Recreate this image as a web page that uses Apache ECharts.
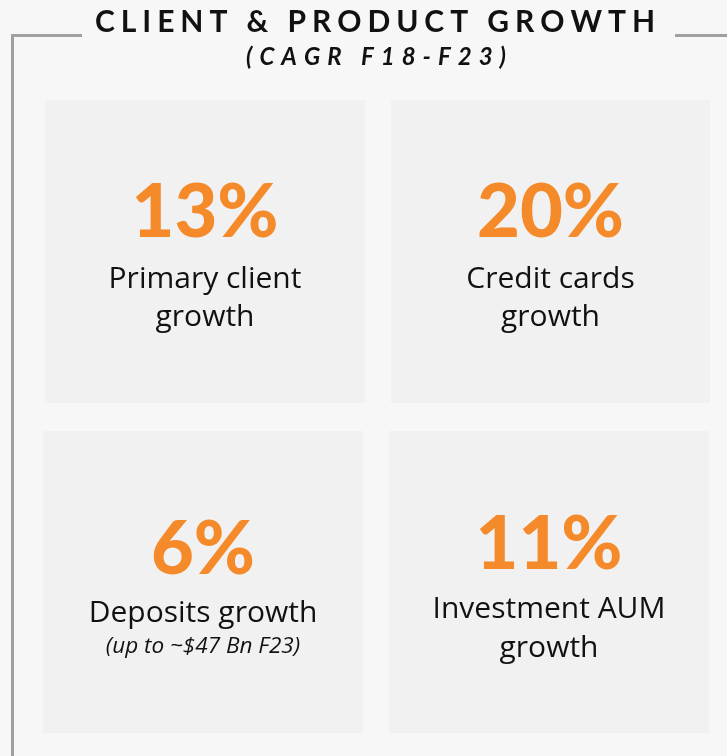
<!DOCTYPE html>
<html>
<head>
<meta charset="utf-8">
<script src="https://cdn.jsdelivr.net/npm/echarts@6/dist/echarts.min.js"></script>
<style>
  html, body { margin: 0; background: #f7f7f7; }
  #chart { width: 727px; height: 756px; }
</style>
</head>
<body>
<div id="chart"></div>
<script>
// data
const titleText = 'CLIENT & PRODUCT GROWTH';
const subtitleText = '(CAGR F18-F23)';
const growthValues = ['13%', '20%', '6%', '11%'];
const growthLabels = [
    ['Primary client', 'growth'],
    ['Credit cards', 'growth'],
    ['Deposits growth'],
    ['Investment AUM', 'growth'],
];
const growthNotes = ['', '', '(up to ~$47 Bn F23)', ''];

// tile boxes (layout only)
const tiles = [
    { x: 45, y: 100, w: 320, h: 303, num: 113, lines: [179, 217], note: 0 },
    { x: 391, y: 100, w: 319, h: 303, num: 113, lines: [179, 217], note: 0 },
    { x: 43, y: 431, w: 320, h: 302, num: 119, lines: [182], note: 216 },
    { x: 389, y: 431, w: 320, h: 302, num: 114, lines: [178, 217], note: 0 },
];

const orange = '#f58a2b';
const ink = '#111111';
const numFont = '900 74px Lato';
const labelFont = '30px "Open Sans"';
const noteFont = 'italic 22.5px "Open Sans"';

const ctx = document.createElement('canvas').getContext('2d');

// place each character so the line is letter-spaced to a given width
function spacedText(text, font, cx, cy, width, fill) {
    ctx.font = font;
    const chars = [...text];
    const widths = chars.map((c) => ctx.measureText(c).width);
    const natural = widths.reduce((a, b) => a + b, 0);
    const gap = (width - natural) / (chars.length - 1);
    let x = cx - width / 2;
    return chars.map((c, i) => {
        const el = {
            type: 'text',
            x: x,
            y: cy,
            style: { text: c, font: font, fill: fill, textAlign: 'left', textVerticalAlign: 'middle' },
        };
        x += widths[i] + gap;
        return el;
    });
}

const elements = [];

// frame lines
const frame = '#a0a0a0';
elements.push({ type: 'rect', shape: { x: 11, y: 34, width: 3, height: 722 }, style: { fill: frame } });
elements.push({ type: 'rect', shape: { x: 11, y: 34, width: 71, height: 3 }, style: { fill: frame } });
elements.push({ type: 'rect', shape: { x: 675, y: 34, width: 52, height: 3 }, style: { fill: frame } });

// heading
elements.push(...spacedText(titleText, 'bold 30px Lato', 375, 22, 560, ink));
elements.push(...spacedText(subtitleText, 'italic bold 24px Lato', 376, 57, 260, ink));

tiles.forEach((t, i) => {
    const cx = t.x + t.w / 2;
    elements.push({ type: 'rect', shape: { x: t.x, y: t.y, width: t.w, height: t.h }, style: { fill: '#f1f1f1' } });
    elements.push({
        type: 'text',
        x: cx,
        y: t.y + t.num,
        style: { text: growthValues[i], font: numFont, fill: orange, textAlign: 'center', textVerticalAlign: 'middle' },
    });
    growthLabels[i].forEach((line, j) => {
        elements.push({
            type: 'text',
            x: cx,
            y: t.y + t.lines[j],
            style: { text: line, font: labelFont, fill: ink, textAlign: 'center', textVerticalAlign: 'middle' },
        });
    });
    if (growthNotes[i]) {
        elements.push({
            type: 'text',
            x: cx,
            y: t.y + t.note,
            style: { text: growthNotes[i], font: noteFont, fill: ink, textAlign: 'center', textVerticalAlign: 'middle' },
        });
    }
});

const chart = echarts.init(document.getElementById('chart'));
chart.setOption({
    backgroundColor: '#f7f7f7',
    animation: false,
    graphic: { elements: elements },
});
</script>
</body>
</html>
